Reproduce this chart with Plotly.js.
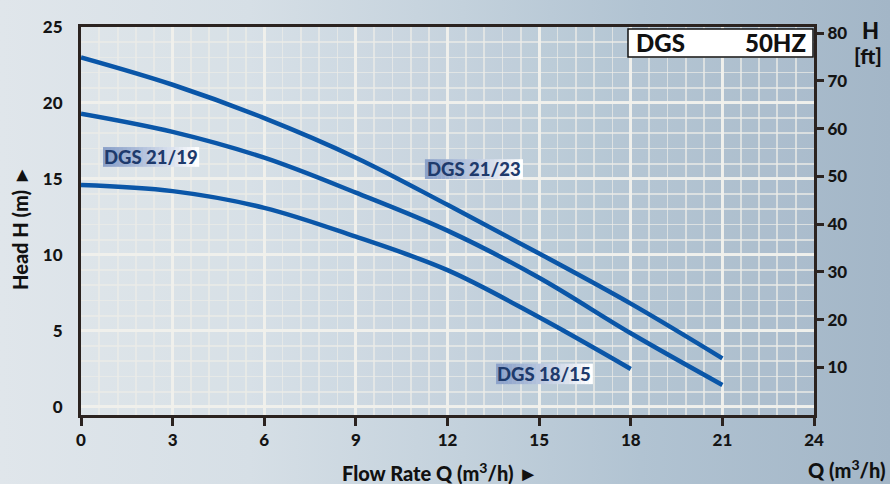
<!DOCTYPE html>
<html>
<head>
<meta charset="utf-8">
<script src="https://cdn.plot.ly/plotly-3.0.1.min.js"></script>
<style>
  html, body { margin: 0; padding: 0; }
  body { width: 890px; height: 484px; overflow: hidden;
    background: linear-gradient(to right, #e0e6eb 0%, #d6dfe6 28%, #c3d1dc 52%, #b1c3d2 72%, #a3b6c7 100%); }
  #chart { width: 890px; height: 484px; }
</style>
</head>
<body>
<div id="chart"></div>
<script>
// ---- data ----
const flowQ = [0, 3, 6, 9, 12, 15, 18, 21];
const flowQ18 = [0, 3, 6, 9, 12, 15, 18];
const headDGS2123 = [23.0, 21.2, 19.0, 16.4, 13.3, 10.1, 6.8, 3.2];
const headDGS2119 = [19.3, 18.1, 16.4, 14.1, 11.6, 8.5, 4.85, 1.45];
const headDGS1815 = [14.6, 14.2, 13.1, 11.2, 9.0, 5.9, 2.5];
const seriesNames = ['DGS 21/23', 'DGS 21/19', 'DGS 18/15'];
const xTicks = [0, 3, 6, 9, 12, 15, 18, 21, 24];
const yTicksM = [0, 5, 10, 15, 20, 25];
const yTicksFt = [10, 20, 30, 40, 50, 60, 70, 80];
const M_TO_FT = 3.2808;

// ---- styling ----
const lineColor = '#0a56a8';
const axisColor = '#2b2320';
const FONT = 'Lato, "Open Sans", sans-serif';
const tickFont = {family: FONT, size: 17, color: '#141414', weight: 900};

const traces = [
  {x: flowQ, y: headDGS2123, name: seriesNames[0]},
  {x: flowQ, y: headDGS2119, name: seriesNames[1]},
  {x: flowQ18, y: headDGS1815, name: seriesNames[2]}
].map(t => Object.assign(t, {
  type: 'scatter', mode: 'lines',
  line: {color: lineColor, width: 4.5, shape: 'spline', smoothing: 1.0},
  hoverinfo: 'skip'
}));
// same curve in feet on the right axis (invisible, only to carry the ft scale)
traces.push({
  type: 'scatter', mode: 'lines', x: flowQ, y: headDGS2123.map(v => v * M_TO_FT),
  yaxis: 'y2', line: {width: 0, color: 'rgba(0,0,0,0)'}, hoverinfo: 'skip', showlegend: false
});

// label boxes (data units)
const labelBoxes = [
  {text: seriesNames[1], x0: 0.72, x1: 3.86, y0: 15.8, y1: 17.1},
  {text: seriesNames[0], x0: 11.26, x1: 14.46, y0: 15.0, y1: 16.3},
  {text: seriesNames[2], x0: 13.59, x1: 16.75, y0: 1.5, y1: 2.85}
];

const shapes = [];
const annotations = [];
const steps = 24;
const c0 = [140, 162, 202], c1 = [255, 255, 255];
labelBoxes.forEach(b => {
  for (let i = 0; i < steps; i++) {
    const t = i / (steps - 1);
    const c = c0.map((v, k) => Math.round(v + (c1[k] - v) * Math.pow(t, 1.2)));
    shapes.push({
      type: 'rect', xref: 'x', yref: 'y', layer: 'above',
      x0: b.x0 + (b.x1 - b.x0) * i / steps,
      x1: b.x0 + (b.x1 - b.x0) * (i + 1) / steps + 0.01,
      y0: b.y0, y1: b.y1,
      line: {width: 0}, fillcolor: `rgb(${c[0]},${c[1]},${c[2]})`
    });
  }
  annotations.push({
    xref: 'x', yref: 'y', x: (b.x0 + b.x1) / 2, y: (b.y0 + b.y1) / 2,
    xanchor: 'center', yanchor: 'middle',
    text: b.text, showarrow: false,
    font: {family: FONT, size: 18.5, color: '#1e3a6c', weight: 900}
  });
});

const px = v => (v - 81) / 733;
const py = v => (415 - v) / 388;

// DGS 50HZ box
shapes.push({type: 'rect', xref: 'paper', yref: 'paper',
  x0: px(628), x1: px(813), y0: py(57), y1: py(29),
  fillcolor: '#ffffff', line: {color: '#111111', width: 1.5}, layer: 'above'});
const bold = (size) => ({family: FONT, size: size, color: '#111', weight: 900});
annotations.push(
  {xref: 'paper', yref: 'paper', x: px(634), y: py(43), xanchor: 'left', yanchor: 'middle',
   text: 'DGS', showarrow: false, font: bold(24)},
  {xref: 'paper', yref: 'paper', x: px(808), y: py(43), xanchor: 'right', yanchor: 'middle',
   text: '50HZ', showarrow: false, font: bold(24)},
  {xref: 'paper', yref: 'paper', x: px(20), y: py(228), xanchor: 'center', yanchor: 'middle',
   text: 'Head H (m) \u25BA', textangle: -90, showarrow: false, font: bold(20)},
  {xref: 'paper', yref: 'paper', x: px(440), y: py(472), xanchor: 'center', yanchor: 'middle',
   text: 'Flow Rate Q (m<sup>3</sup>/h) \u25BA', showarrow: false, font: bold(20)},
  {xref: 'paper', yref: 'paper', x: px(847), y: py(469), xanchor: 'center', yanchor: 'middle',
   text: 'Q (m<sup>3</sup>/h)', showarrow: false, font: bold(20)},
  {xref: 'paper', yref: 'paper', x: px(870), y: py(31), xanchor: 'center', yanchor: 'middle',
   text: 'H', showarrow: false, font: bold(22)},
  {xref: 'paper', yref: 'paper', x: px(868), y: py(56), xanchor: 'center', yanchor: 'middle',
   text: '[ft]', showarrow: false, font: bold(21)}
);

const gridMinor = 'rgba(236,236,232,0.72)';
const gridMajor = 'rgba(240,240,236,0.95)';

const layout = {
  width: 890, height: 484,
  margin: {l: 81, r: 76, t: 27, b: 69},
  paper_bgcolor: 'rgba(0,0,0,0)',
  plot_bgcolor: 'rgba(255,255,255,0.04)',
  showlegend: false,
  font: {family: FONT},
  xaxis: {
    range: [0, 24], tickvals: xTicks, ticktext: xTicks.map(String),
    ticks: 'outside', ticklen: 8, tickwidth: 3, tickcolor: axisColor,
    showline: true, linewidth: 3, linecolor: axisColor, mirror: true,
    showgrid: true, gridcolor: gridMajor, gridwidth: 3,
    minor: {dtick: 0.6, tick0: 0, showgrid: true, gridcolor: gridMinor, gridwidth: 1.8, ticks: ''},
    zeroline: false, tickfont: tickFont, fixedrange: true
  },
  yaxis: {
    range: [-0.53, 25], tickvals: yTicksM, ticktext: yTicksM.map(String),
    ticks: '', ticklabelstandoff: 12,
    showline: true, linewidth: 3, linecolor: axisColor,
    showgrid: true, gridcolor: gridMajor, gridwidth: 3,
    minor: {dtick: 1, tick0: 0, showgrid: true, gridcolor: gridMinor, gridwidth: 1.8, ticks: ''},
    zeroline: false, tickfont: tickFont, fixedrange: true
  },
  yaxis2: {
    overlaying: 'y', side: 'right', range: [0, 81.3],
    tickvals: yTicksFt, ticktext: yTicksFt.map(String),
    ticks: 'outside', ticklen: 7, tickwidth: 3, tickcolor: axisColor,
    showline: true, linewidth: 3, linecolor: axisColor,
    showgrid: false, zeroline: false, tickfont: tickFont, fixedrange: true
  },
  shapes: shapes,
  annotations: annotations
};

Plotly.newPlot('chart', traces, layout, {displayModeBar: false, staticPlot: true});
</script>
</body>
</html>
